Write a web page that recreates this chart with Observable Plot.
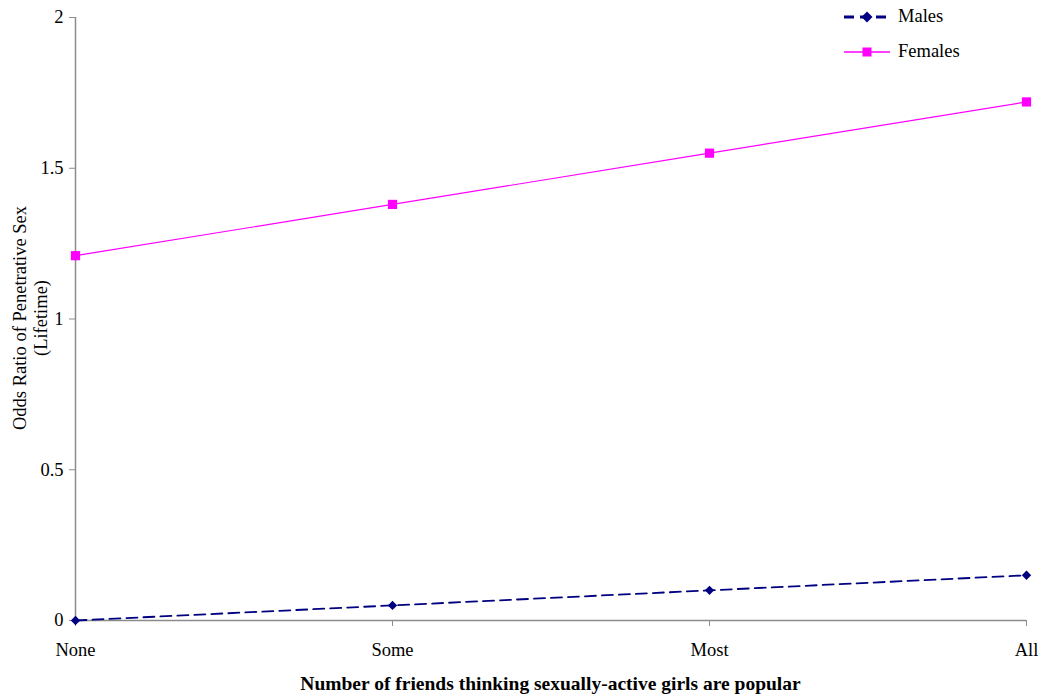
<!DOCTYPE html>
<html>
<head>
<meta charset="utf-8">
<script src="https://cdn.jsdelivr.net/npm/d3@7"></script>
<script src="https://cdn.jsdelivr.net/npm/@observablehq/plot@0.6"></script>
<style>
  html, body { margin: 0; padding: 0; background: #fff; }
  #wrap { position: relative; width: 1050px; height: 698px; font-family: "Liberation Serif", "Times New Roman", serif; }
  #legend { position: absolute; left: 840px; top: -1px; font-size: 18.5px; color: #000; font-family: "Liberation Serif", "Times New Roman", serif; }
  .lg { display: flex; align-items: center; height: 35px; }
  .lg svg { margin-right: 4px; }
</style>
</head>
<body>
<div id="wrap"></div>
<script>
const categories = ["None", "Some", "Most", "All"];
const males = [0, 0.05, 0.10, 0.15];
const females = [1.21, 1.38, 1.55, 1.72];
const yTicks = [0, 0.5, 1, 1.5, 2];
const seriesNames = ["Males", "Females"];

const data = [];
categories.forEach((c, i) => {
  data.push({cat: c, series: "Males", value: males[i]});
  data.push({cat: c, series: "Females", value: females[i]});
});
const M = data.filter(d => d.series === "Males");
const F = data.filter(d => d.series === "Females");

const navy = "#000080", magenta = "#FF00FF", axisGray = "#8c8c8c";
const serif = "Liberation Serif, Times New Roman, serif";

const chart = Plot.plot({
  width: 1050,
  height: 698,
  marginLeft: 75,
  marginRight: 24,
  marginTop: 17,
  marginBottom: 78,
  style: {fontFamily: serif, fontSize: "18.5px", color: "#000", background: "#fff"},
  x: {type: "point", domain: categories, padding: 0, label: null},
  y: {domain: [0, 2], label: null},
  marks: [
    Plot.ruleY([0], {stroke: axisGray, strokeWidth: 1.5}),
    Plot.ruleX([categories[0]], {x: d => d, y1: 0, y2: 2, stroke: axisGray, strokeWidth: 1.5}),
    Plot.axisY({ticks: yTicks, tickFormat: d => String(d), tickSize: 6, tickPadding: 6, stroke: axisGray, fill: "#000", fontSize: 18.5, label: null}),
    Plot.axisX({tickSize: 6, tickPadding: 16, stroke: axisGray, fill: "#000", fontSize: 18.5, label: null}),
    Plot.line(M, {x: "cat", y: "value", stroke: navy, strokeWidth: 1.8, strokeDasharray: "11,6"}),
    Plot.line(F, {x: "cat", y: "value", stroke: magenta, strokeWidth: 1.2}),
    Plot.dot(M, {x: "cat", y: "value", symbol: "diamond2", r: 4.2, fill: navy, stroke: "none"}),
    Plot.dot(F, {x: "cat", y: "value", symbol: "square", r: 5.2, fill: magenta, stroke: "none"})
  ]
});

const svg = d3.select(chart);
svg.append("text")
  .attr("x", (75 + 1026) / 2).attr("y", 690)
  .attr("text-anchor", "middle")
  .attr("font-weight", "bold").attr("font-size", 19.5)
  .attr("font-family", serif)
  .text("Number of friends thinking sexually-active girls are popular");
const yt = svg.append("text")
  .attr("transform", "translate(26,318) rotate(-90)")
  .attr("text-anchor", "middle")
  .attr("font-size", 18.5)
  .attr("font-family", serif);
yt.append("tspan").attr("x", 0).attr("dy", 0).text("Odds Ratio of Penetrative Sex");
yt.append("tspan").attr("x", 0).attr("dy", 21).text("(Lifetime)");

const wrap = document.getElementById("wrap");
wrap.appendChild(chart);

// Legend
const legend = document.createElement("div");
legend.id = "legend";
const specs = [
  {name: seriesNames[0], color: navy, dash: "10,6", sw: 3, shape: "diamond"},
  {name: seriesNames[1], color: magenta, dash: null, sw: 1.3, shape: "square"}
];
specs.forEach(s => {
  const row = document.createElement("div");
  row.className = "lg";
  const ns = "http://www.w3.org/2000/svg";
  const sv = document.createElementNS(ns, "svg");
  sv.setAttribute("width", 54); sv.setAttribute("height", 20);
  const ln = document.createElementNS(ns, "line");
  ln.setAttribute("x1", 4); ln.setAttribute("x2", 50); ln.setAttribute("y1", 10); ln.setAttribute("y2", 10);
  ln.setAttribute("stroke", s.color); ln.setAttribute("stroke-width", s.sw);
  if (s.dash) ln.setAttribute("stroke-dasharray", s.dash);
  sv.appendChild(ln);
  if (s.shape === "square") {
    const r = document.createElementNS(ns, "rect");
    r.setAttribute("x", 22.5); r.setAttribute("y", 5.5); r.setAttribute("width", 9); r.setAttribute("height", 9);
    r.setAttribute("fill", s.color);
    sv.appendChild(r);
  } else {
    const p = document.createElementNS(ns, "path");
    p.setAttribute("d", "M27,4.5 L32.5,10 L27,15.5 L21.5,10 Z");
    p.setAttribute("fill", s.color);
    sv.appendChild(p);
  }
  row.appendChild(sv);
  const t = document.createElement("span");
  t.textContent = s.name;
  row.appendChild(t);
  legend.appendChild(row);
});
wrap.appendChild(legend);
</script>
</body>
</html>
